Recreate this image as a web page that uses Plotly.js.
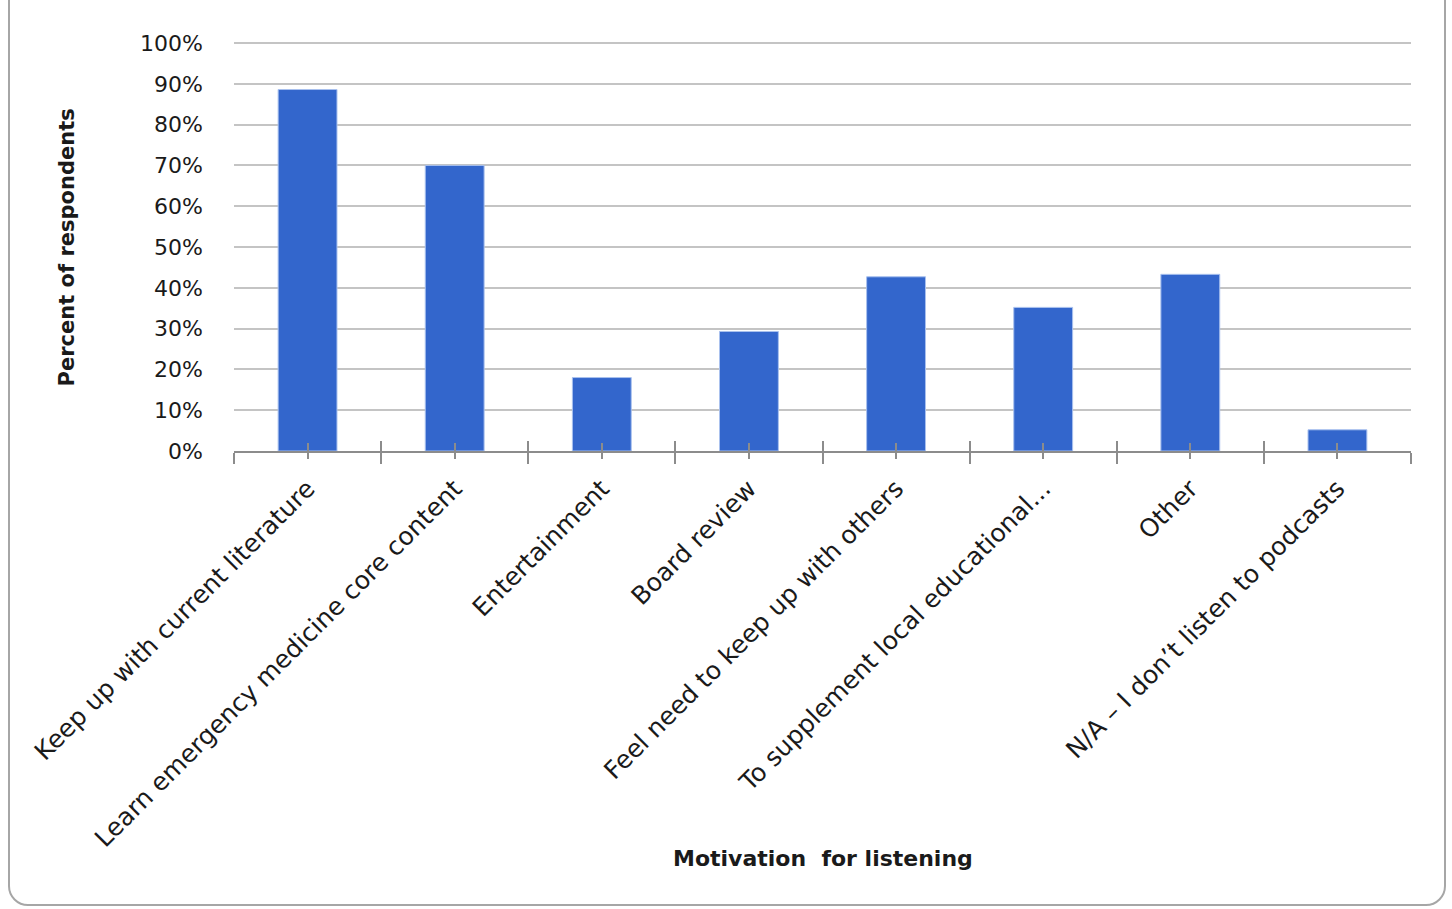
<!DOCTYPE html>
<html>
<head>
<meta charset="utf-8">
<script src="https://cdn.plot.ly/plotly-3.0.1.min.js"></script>
<style>
  html, body { margin: 0; padding: 0; background: #fff; overflow: hidden; }
  #frame { position: absolute; left: 8px; top: -20px; width: 1438px; height: 926px;
           border: 2px solid #a6a6a6; border-radius: 0 0 20px 20px; box-sizing: border-box; }
  #chart { position: absolute; left: 0; top: 0; width: 1452px; height: 909px; }
</style>
</head>
<body>
<div id="frame"></div>
<div id="chart"></div>
<script>
const categories = [
  "Keep up with current literature",
  "Learn emergency medicine core content",
  "Entertainment",
  "Board review",
  "Feel need to keep up with others",
  "To supplement local educational...",
  "Other",
  "N/A \u2013 I don\u2019t listen to podcasts"
];
const percentRespondents = [88.6, 70.0, 18.0, 29.3, 42.7, 35.2, 43.3, 5.2];
const yTickValues = [0, 10, 20, 30, 40, 50, 60, 70, 80, 90, 100];
const xTitle = "Motivation  for listening";
const yTitle = "Percent of respondents";

const FONT = "DejaVu Sans, Verdana, sans-serif";

const main = {
  type: "bar", x: categories, y: percentRespondents,
  marker: { color: "#3366cc", line: { color: "#a9c1ee", width: 1 } },
  hoverinfo: "x+y", xaxis: "x", yaxis: "y"
};
function ghost(ax) {
  return { type: "bar", x: categories, y: percentRespondents,
    marker: { color: "rgba(0,0,0,0)" }, hoverinfo: "skip", showlegend: false,
    xaxis: ax, yaxis: "y" };
}

const overlayBase = {
  type: "category", overlaying: "x", anchor: "y", side: "bottom",
  range: [-0.5, categories.length - 0.5], showgrid: false, zeroline: false,
  showline: false, showticklabels: false, tickcolor: "#8c8c8c", tickwidth: 2,
  fixedrange: true
};

const layout = {
  width: 1452, height: 909,
  paper_bgcolor: "rgba(0,0,0,0)", plot_bgcolor: "rgba(0,0,0,0)",
  margin: { l: 234, r: 41, t: 42, b: 458 },
  showlegend: false,
  bargap: 0.6,
  font: { family: FONT, color: "#222" },
  xaxis: {
    type: "category", range: [-0.5, categories.length - 0.5],
    tickson: "boundaries", ticks: "outside", ticklen: 11, tickwidth: 2, tickcolor: "#8c8c8c",
    showline: true, linecolor: "#8c8c8c", linewidth: 2,
    tickangle: -45, tickfont: { family: FONT, size: 25, color: "#1a1a1a" },
    ticklabelstandoff: 11,
    showgrid: false, zeroline: false, fixedrange: true, automargin: false
  },
  xaxis2: Object.assign({}, overlayBase, { tickson: "boundaries", ticks: "inside", ticklen: 10 }),
  xaxis3: Object.assign({}, overlayBase, { tickson: "labels", ticks: "outside", ticklen: 7 }),
  xaxis4: Object.assign({}, overlayBase, { tickson: "labels", ticks: "inside", ticklen: 8 }),
  yaxis: {
    range: [0, 100.25], tickmode: "array", tickvals: yTickValues,
    ticktext: yTickValues.map(v => v + "%"),
    ticks: "", ticklabelstandoff: 30,
    tickfont: { family: FONT, size: 22, color: "#1a1a1a" },
    showgrid: true, gridcolor: "#c4c4c4", gridwidth: 1.5,
    zeroline: false, showline: false, fixedrange: true, automargin: false
  },
  annotations: [
    { text: "<b>" + xTitle + "</b>", xref: "paper", yref: "paper", x: 0.5, y: -0.997,
      xanchor: "center", yanchor: "middle", showarrow: false,
      font: { family: FONT, size: 22, color: "#1a1a1a" } },
    { text: "<b>" + yTitle + "</b>", xref: "paper", yref: "paper", x: -0.142, y: 0.4975,
      xanchor: "center", yanchor: "middle", showarrow: false, textangle: -90,
      font: { family: FONT, size: 21, color: "#1a1a1a" } }
  ]
};

Plotly.newPlot("chart", [main, ghost("x2"), ghost("x3"), ghost("x4")], layout,
  { displayModeBar: false, staticPlot: false });
</script>
</body>
</html>
